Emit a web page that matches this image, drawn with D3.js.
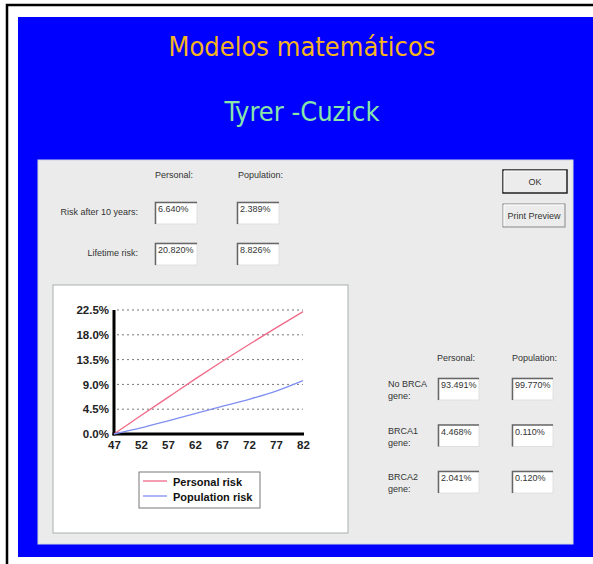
<!DOCTYPE html>
<html>
<head>
<meta charset="utf-8">
<script src="https://cdn.jsdelivr.net/npm/d3@7"></script>
<style>
  body { margin: 0; background: #fff; }
  svg { display: block; }
  .dlg { font-family: "Liberation Sans", Arial, sans-serif; font-size: 9px; fill: #333; }
  .chart-tick { font-family: "Liberation Sans", Arial, sans-serif; font-size: 11.5px; font-weight: bold; fill: #222; }
</style>
</head>
<body>
<div id="chart"></div>
<script>
// chart data
const ages = [47, 52, 57, 62, 67, 72, 77, 82];
const personalRisk = [0, 3.35, 6.65, 9.95, 13.15, 16.25, 19.25, 22.2];
const populationRisk = [0, 1.1, 2.4, 3.7, 5.0, 6.3, 7.8, 9.7];
const yTicks = [0, 4.5, 9, 13.5, 18, 22.5];
const seriesNames = ["Personal risk", "Population risk"];

// dialog fields
const riskRows = ["Risk after 10 years:", "Lifetime risk:"];
const riskPersonal = ["6.640%", "20.820%"];
const riskPopulation = ["2.389%", "8.826%"];
const geneRows = [["No BRCA", "gene:"], ["BRCA1", "gene:"], ["BRCA2", "gene:"]];
const genePersonal = ["93.491%", "4.468%", "2.041%"];
const genePopulation = ["99.770%", "0.110%", "0.120%"];

const W = 593, H = 564;
const svg = d3.select("#chart").append("svg").attr("width", W).attr("height", H);

svg.append("rect").attr("width", W).attr("height", H).attr("fill", "#fff");
// black frame (top and left only, the rest is cropped)
svg.append("path").attr("d", `M7,${H}V5H${W}`)
    .attr("fill", "none").attr("stroke", "#000").attr("stroke-width", 2.5);
// blue slide
svg.append("rect").attr("x", 18).attr("y", 17).attr("width", W - 18).attr("height", 540).attr("fill", "#0000ff");

svg.append("text").attr("x", 302).attr("y", 56).attr("text-anchor", "middle")
    .style("font-family", "DejaVu Sans Condensed, DejaVu Sans, sans-serif").style("font-stretch", "condensed")
    .style("font-size", "27px")
    .attr("fill", "#f5b41e").text("Modelos matemáticos");
svg.append("text").attr("x", 302).attr("y", 121).attr("text-anchor", "middle")
    .style("font-family", "DejaVu Sans Condensed, DejaVu Sans, sans-serif").style("font-stretch", "condensed")
    .style("font-size", "27px")
    .attr("fill", "#88e6a8").text("Tyrer -Cuzick");

// dialog window
svg.append("rect").attr("x", 38).attr("y", 160).attr("width", 535).attr("height", 384)
    .attr("fill", "#ebebeb").attr("stroke", "#cfd8e0");

function textBox(x, y, w, h, val) {
    svg.append("rect").attr("x", x).attr("y", y).attr("width", w).attr("height", h)
        .attr("fill", "#fff").attr("stroke", "#e0e0e0");
    svg.append("path").attr("d", `M${x + 0.5},${y + h}V${y + 0.5}H${x + w}`)
        .attr("fill", "none").attr("stroke", "#666").attr("stroke-width", 1.5);
    svg.append("text").attr("class", "dlg").attr("x", x + 3).attr("y", y + 10).text(val);
}

function button(x, y, w, h, label, isDefault) {
    svg.append("rect").attr("x", x).attr("y", y).attr("width", w).attr("height", h)
        .attr("fill", "#ececec").attr("stroke", isDefault ? "#222" : "#888").attr("stroke-width", isDefault ? 1.5 : 1);
    svg.append("path").attr("d", `M${x + 1},${y + h - 1}V${y + 1}H${x + w - 1}`)
        .attr("fill", "none").attr("stroke", "#fff");
    svg.append("text").attr("class", "dlg").attr("x", x + w / 2).attr("y", y + h / 2 + 3.5)
        .attr("text-anchor", "middle").text(label);
}

// top fields
svg.append("text").attr("class", "dlg").attr("x", 155).attr("y", 178).text("Personal:");
svg.append("text").attr("class", "dlg").attr("x", 238).attr("y", 178).text("Population:");
riskRows.forEach((r, i) => {
    const y = 202 + i * 41;
    svg.append("text").attr("class", "dlg").attr("x", 138).attr("y", y + 13)
        .attr("text-anchor", "end").text(r);
    textBox(155, y, 42, 22, riskPersonal[i]);
    textBox(237, y, 42, 22, riskPopulation[i]);
});

button(503, 170, 64, 23, "OK", true);
button(503, 204, 62, 23, "Print Preview", false);

// gene fields
svg.append("text").attr("class", "dlg").attr("x", 437).attr("y", 361).text("Personal:");
svg.append("text").attr("class", "dlg").attr("x", 512).attr("y", 361).text("Population:");
geneRows.forEach((g, i) => {
    const y = 378 + i * 46.5;
    svg.append("text").attr("class", "dlg").attr("x", 388).attr("y", y + 9).text(g[0]);
    svg.append("text").attr("class", "dlg").attr("x", 388).attr("y", y + 21).text(g[1]);
    textBox(438, y, 41, 22, genePersonal[i]);
    textBox(512, y, 41, 22, genePopulation[i]);
});

// chart panel
svg.append("rect").attr("x", 53).attr("y", 285).attr("width", 295).attr("height", 248)
    .attr("fill", "#fff").attr("stroke", "#a8b0b0");

const x = d3.scaleLinear().domain([47, 82]).range([114, 303]);
const y = d3.scaleLinear().domain([0, 22.5]).range([434, 310]);

// gridlines
svg.append("g").selectAll("line").data(yTicks.slice(1)).join("line")
    .attr("x1", x(47) + 3).attr("x2", x(82))
    .attr("y1", d => y(d)).attr("y2", d => y(d))
    .attr("stroke", "#777").attr("stroke-dasharray", "2,3");

const yAxis = svg.append("g").attr("transform", `translate(${x(47)},0)`)
    .call(d3.axisLeft(y).tickValues(yTicks).tickSize(0).tickPadding(5).tickFormat(d => d3.format(".1f")(d) + "%"));
const xAxis = svg.append("g").attr("transform", `translate(0,${y(0)})`)
    .call(d3.axisBottom(x).tickValues(ages).tickSize(0).tickPadding(7).tickFormat(d3.format("d")));
[xAxis, yAxis].forEach(a => {
    a.select(".domain").attr("stroke", "#000").attr("stroke-width", 3);
    a.selectAll(".tick text").attr("class", "chart-tick").style("font-size", null).style("font-family", null);
});
xAxis.select(".domain").attr("d", `M${x(47) - 1.5},0H${x(82) + 1}`);
yAxis.select(".domain").attr("d", `M0,${y(0) + 1.5}V${y(22.5)}`);

const line = d3.line().x((d, i) => x(ages[i])).y(d => y(d)).curve(d3.curveMonotoneX);
const colors = ["#f06a88", "#7f8ef2"];
[personalRisk, populationRisk].forEach((s, k) => {
    svg.append("path").datum(s).attr("d", line)
        .attr("fill", "none").attr("stroke", colors[k]).attr("stroke-width", 1.3);
});

// legend
svg.append("rect").attr("x", 139).attr("y", 472).attr("width", 121).attr("height", 36)
    .attr("fill", "#fff").attr("stroke", "#777");
seriesNames.forEach((n, k) => {
    const ly = 481 + k * 15;
    svg.append("line").attr("x1", 143).attr("x2", 167).attr("y1", ly).attr("y2", ly)
        .attr("stroke", colors[k]).attr("stroke-width", 1.3);
    svg.append("text").attr("x", 173).attr("y", ly + 4.5)
        .style("font-family", "Liberation Sans, Arial, sans-serif").style("font-size", "11px")
        .style("font-weight", "bold").attr("fill", "#111").text(n);
});
</script>
</body>
</html>
